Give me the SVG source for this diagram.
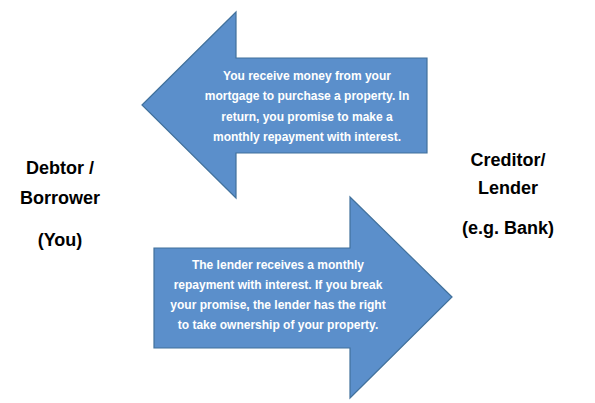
<svg xmlns="http://www.w3.org/2000/svg" width="595" height="403" viewBox="0 0 595 403">
<style>
.arrow{fill:#5b8fcb;stroke:#41719c;stroke-width:1.2}
.inner{font-family:"Liberation Sans",Arial,sans-serif;font-weight:bold;font-size:12px;fill:#ffffff;text-anchor:middle}
.lbl{font-family:"Liberation Sans",Arial,sans-serif;font-weight:bold;font-size:18px;fill:#000000;text-anchor:middle}
</style>
<rect width="595" height="403" fill="#ffffff"/>
<g id="arrow-left">
<polygon class="arrow" points="142,105 236,12 236,58 427,58 427,153 236,153 236,198"/>
<text class="inner" x="307" y="80">You receive money from your</text>
<text class="inner" x="307" y="100">mortgage to purchase a property. In</text>
<text class="inner" x="307" y="121">return, you promise to make a</text>
<text class="inner" x="307" y="141">monthly repayment with interest.</text>
</g>
<g id="arrow-right">
<polygon class="arrow" points="452,297 350,197 350,248 154,248 154,348 350,348 350,398"/>
<text class="inner" x="278" y="269">The lender receives a monthly</text>
<text class="inner" x="278" y="289">repayment with interest. If you break</text>
<text class="inner" x="278" y="309">your promise, the lender has the right</text>
<text class="inner" x="278" y="329">to take ownership of your property.</text>
</g>
<g id="debtor">
<text class="lbl" x="60" y="174">Debtor /</text>
<text class="lbl" x="60" y="204">Borrower</text>
<text class="lbl" x="60" y="246">(You)</text>
</g>
<g id="creditor">
<text class="lbl" x="508" y="166">Creditor/</text>
<text class="lbl" x="508" y="194">Lender</text>
<text class="lbl" x="508" y="234">(e.g. Bank)</text>
</g>
<g id="connectors"></g>
</svg>
